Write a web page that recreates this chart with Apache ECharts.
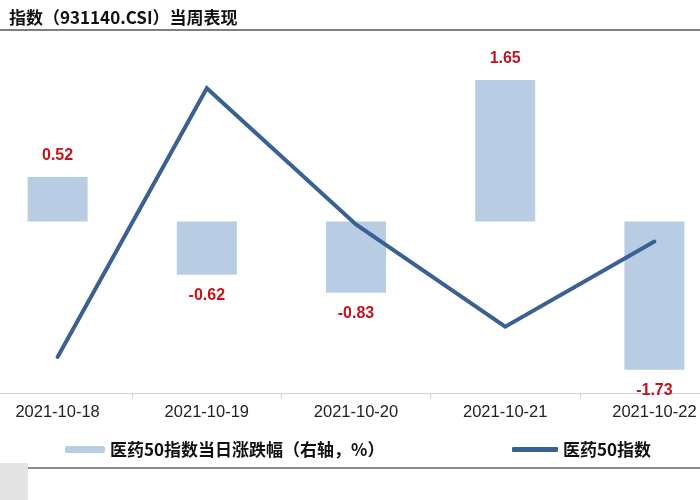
<!DOCTYPE html>
<html><head><meta charset="utf-8">
<script src="https://cdn.jsdelivr.net/npm/echarts@6/dist/echarts.min.js"></script>
<style>html,body{margin:0;padding:0;background:#fff;overflow:hidden;width:700px;height:500px}
#c{position:absolute;left:-17px;top:0;width:746px;height:500px}</style>
</head><body><div id="c"></div>
<script>
const categories = ['2021-10-18','2021-10-19','2021-10-20','2021-10-21','2021-10-22'];
const changePct = [0.52, -0.62, -0.83, 1.65, -1.73];
const indexValues = [12463, 12933, 12695, 12516, 12665];
const barName = '医药50指数当日涨跌幅（右轴，%）';
const lineName = '医药50指数';
const titleText = '指数（931140.CSI）当周表现';

const OX = 17; // canvas is shifted 17px left of the page
const chart = echarts.init(document.getElementById('c'));
chart.setOption({
  animation: false,
  backgroundColor: '#fff',
  title: {
    text: titleText, left: 4 + OX, top: 4,
    textStyle: {fontSize: 17, fontWeight: 'bold', color: '#111', fontFamily: 'Noto Sans CJK SC'}
  },
  graphic: [
    {type: 'line', shape: {x1: OX, y1: 30, x2: 700 + OX, y2: 30}, style: {stroke: '#555', lineWidth: 1.5}},
    {type: 'line', shape: {x1: 28 + OX, y1: 468, x2: 700 + OX, y2: 468}, style: {stroke: '#666', lineWidth: 1.5}},
    {type: 'rect', shape: {x: OX, y: 463, width: 28, height: 37}, style: {fill: '#e4e4e4'}}
  ],
  legend: [
    {data: [barName], left: 60 + OX, top: 436, itemWidth: 40, itemHeight: 7, itemGap: 6,
     textStyle: {fontSize: 17, color: '#111', fontWeight: 'bold', fontFamily: 'Noto Sans CJK SC'}},
    {data: [lineName], left: 507 + OX, top: 436, itemWidth: 46, itemHeight: 5,
     icon: 'roundRect',
     textStyle: {fontSize: 17, color: '#111', fontWeight: 'bold', fontFamily: 'Noto Sans CJK SC'}}
  ],
  grid: {left: 0, right: 0, top: 50, bottom: 107, containLabel: false},
  xAxis: {
    type: 'category', data: categories, boundaryGap: true,
    axisLine: {onZero: false, lineStyle: {color: '#d4d4d4', width: 1}},
    axisTick: {show: true, length: 6, lineStyle: {color: '#d4d4d4'}},
    axisLabel: {fontSize: 16.5, color: '#222', margin: 11, fontFamily: 'Liberation Sans'}
  },
  yAxis: [
    {type: 'value', min: 12400, max: 13000, show: false, splitLine: {show: false}},
    {type: 'value', min: -2, max: 2, show: false, splitLine: {show: false}}
  ],
  series: [
    {
      name: barName, type: 'bar', yAxisIndex: 1, barWidth: 60,
      data: changePct.map(v => ({value: v, label: {position: v >= 0 ? 'top' : 'bottom'}})),
      itemStyle: {color: '#b8cce4'},
      label: {show: true, distance: 13, color: '#c0141e', fontWeight: 'bold', fontSize: 16,
              fontFamily: 'Liberation Sans'}
    },
    {
      name: lineName, type: 'line', yAxisIndex: 0, data: indexValues,
      symbol: 'none', lineStyle: {color: '#3a6193', width: 4, cap: 'round', join: 'miter'},
      itemStyle: {color: '#3a6193'}
    }
  ]
});
</script></body></html>
